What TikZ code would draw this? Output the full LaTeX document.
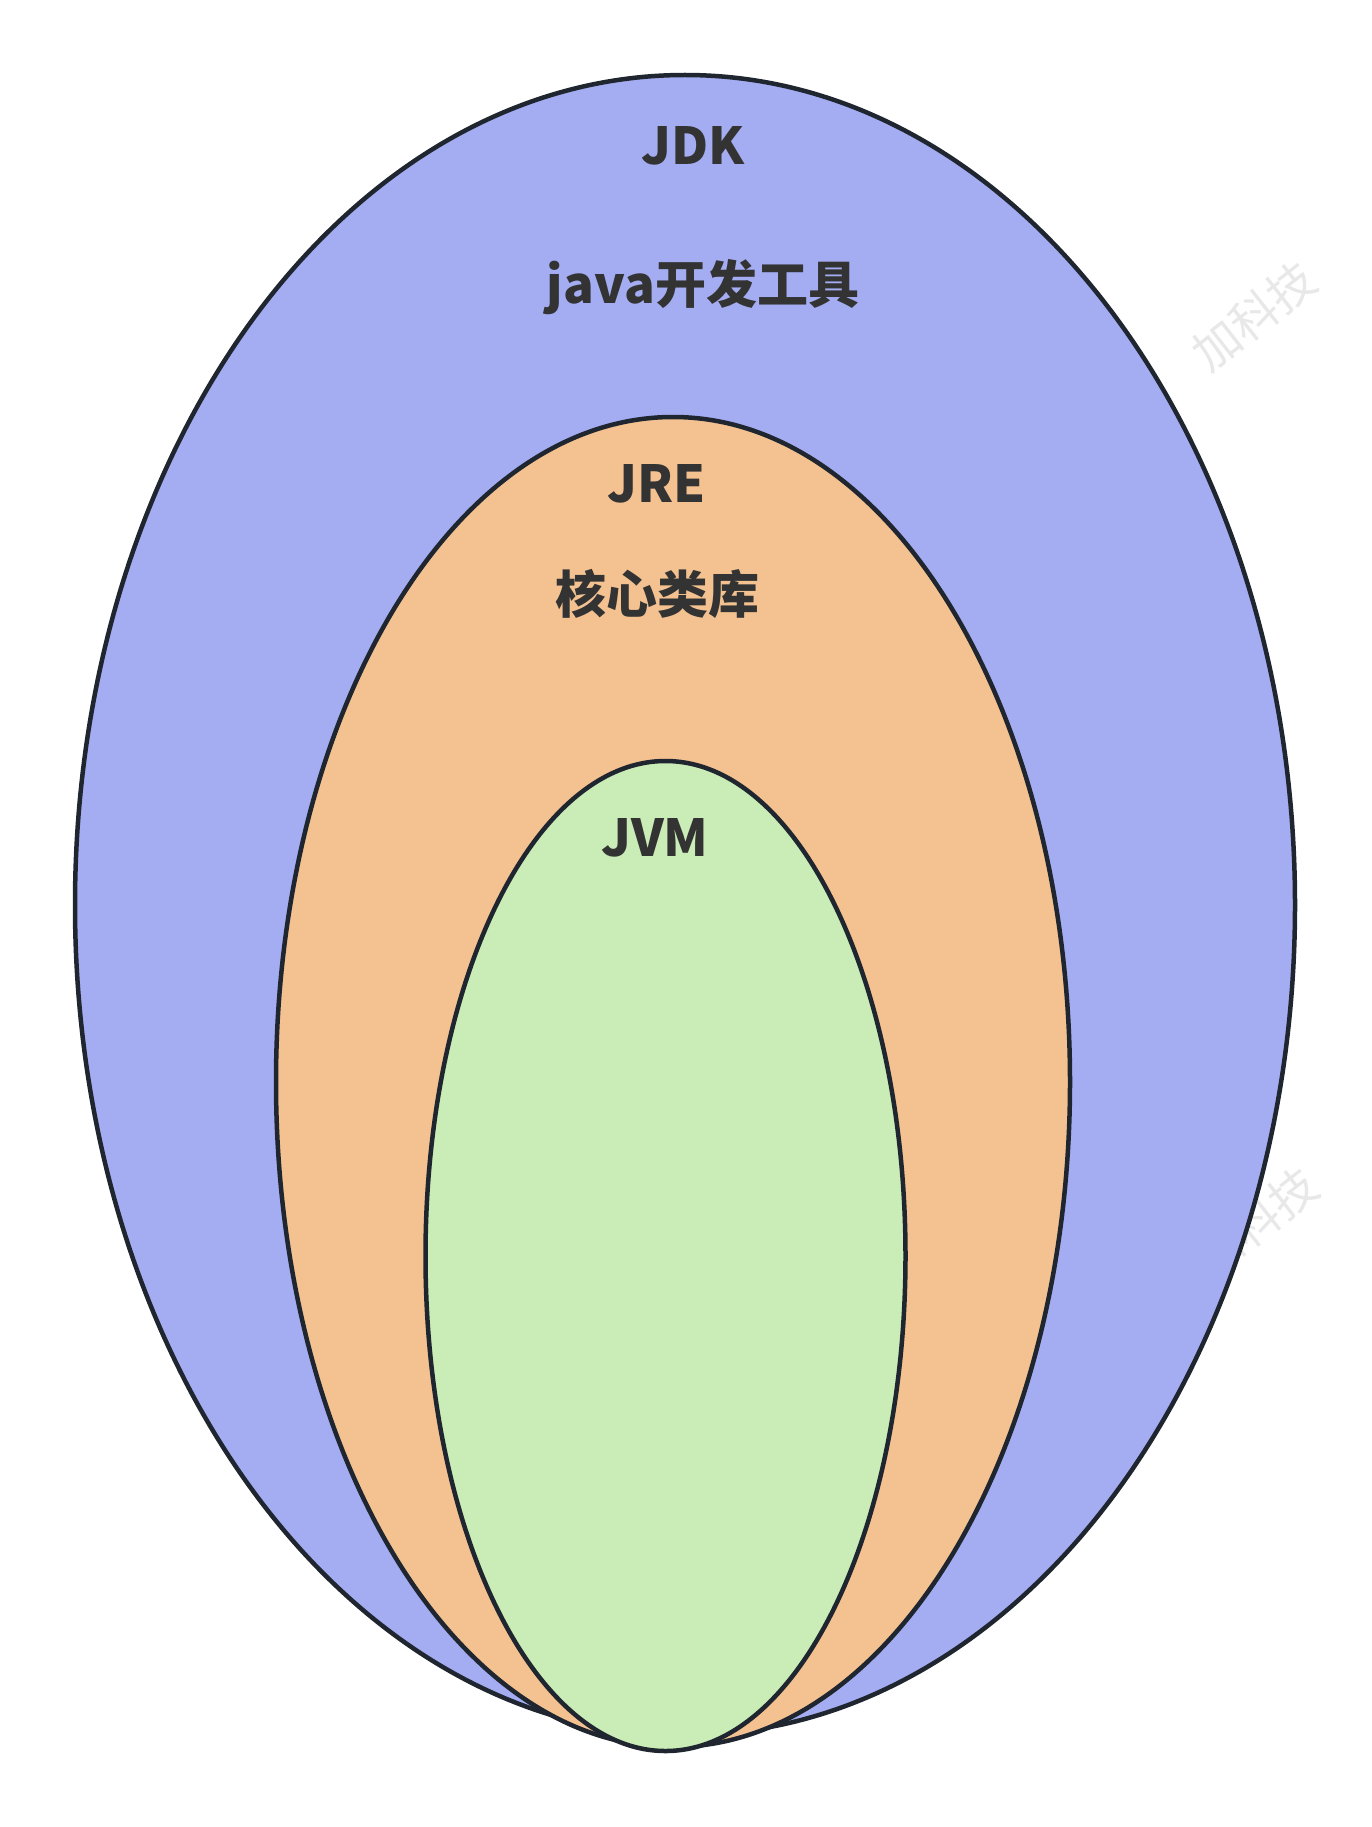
\documentclass[tikz,border=0pt]{standalone}
\usepackage{fontspec}
\setmainfont{Noto Sans CJK SC}
\usetikzlibrary{positioning}
\tikzset{
  shell/.style={draw={rgb, 255:red, 31; green, 38; blue, 48}, line width=4.5},
  tagtext/.style={font=\fontsize{51}{58}\selectfont\bfseries, text={rgb, 255:red, 51; green, 51; blue, 51}, inner sep=0pt},
  watermark/.style={font=\fontsize{47}{52}\selectfont, text={rgb, 255:red, 232; green, 232; blue, 232}, rotate=38, inner sep=0pt}
}

\begin{document}
\begin{tikzpicture}[x=1pt,y=-1pt]
\useasboundingbox (0,0) rectangle (1371,1827);

%Watermarks
\node [watermark] (wm1) at (1254,316) {加科技};
\node [watermark] (wm2) at (1256,1222) {加科技};

%Shape: Ellipse JDK
\draw [shell, fill={rgb, 255:red, 164; green, 173; blue, 242}] (685,905) ellipse [x radius=610, y radius=830];
%Shape: Ellipse JRE
\draw [shell, fill={rgb, 255:red, 244; green, 194; blue, 144}] (673,1082) ellipse [x radius=397, y radius=665];
%Shape: Ellipse JVM
\draw [shell, fill={rgb, 255:red, 202; green, 236; blue, 182}] (665.5,1256) ellipse [x radius=240, y radius=495];

%Texts
\node [tagtext] (jdk) at (693,146) {JDK};
\node [tagtext] (jdktools) at (703,287) {java开发工具};
\node [tagtext] (jre) at (657,484) {JRE};
\node [tagtext] (jrelib) at (657,594) {核心类库};
\node [tagtext] (jvm) at (655,838) {JVM};
\end{tikzpicture}
\end{document}
